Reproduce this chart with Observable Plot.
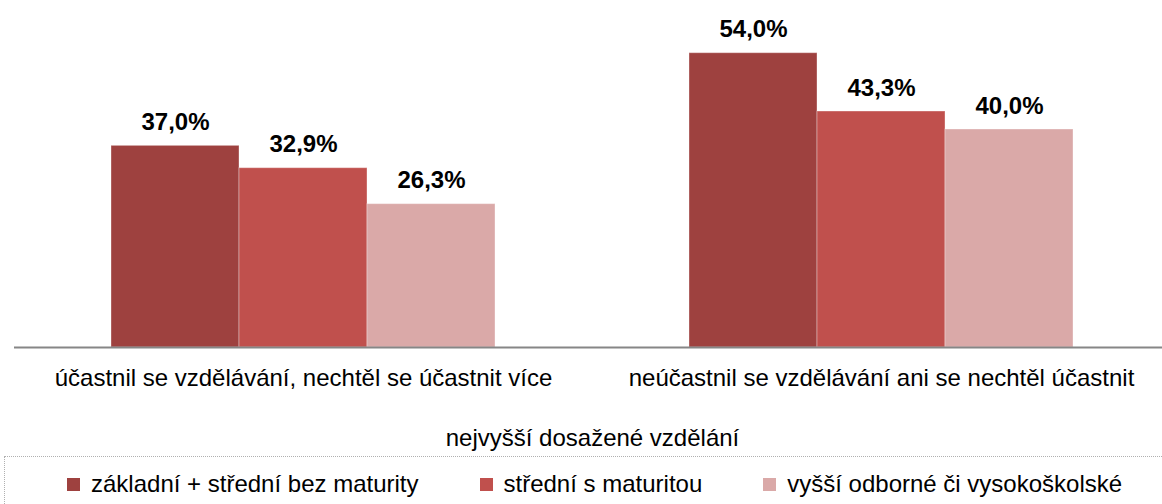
<!DOCTYPE html>
<html>
<head>
<meta charset="utf-8">
<script src="https://cdn.jsdelivr.net/npm/d3@7"></script>
<script src="https://cdn.jsdelivr.net/npm/@observablehq/plot@0.6"></script>
<style>
  html, body { margin: 0; padding: 0; background: #fff; }
  body { width: 1162px; height: 504px; overflow: hidden; font-family: "Liberation Sans", Arial, sans-serif; }
  #chart svg { display: block; }
  #legend {
    box-sizing: border-box;
    margin-left: 4px;
    width: 1160px;
    height: 48px;
    border-top: 1px dotted #b0b0b0;
    border-left: 1px dotted #b0b0b0;
    display: flex;
    align-items: center;
    padding-left: 62px;
    padding-top: 7px;
    font-size: 24px;
    color: #000;
    white-space: nowrap;
  }
  .item { display: flex; align-items: center; margin-right: 61px; }
  .sw { width: 13px; height: 13px; margin-right: 11px; flex: none; }
</style>
</head>
<body>
<div id="chart"></div>
<div id="legend"></div>
<script>
const groups = [
  "účastnil se vzdělávání, nechtěl se účastnit více",
  "neúčastnil se vzdělávání ani se nechtěl účastnit"
];
const series = [
  "základní + střední bez maturity",
  "střední s maturitou",
  "vyšší odborné či vysokoškolské"
];
const valuesGroup1 = [37.0, 32.9, 26.3];
const valuesGroup2 = [54.0, 43.3, 40.0];
const colors = ["#9E413F", "#C0504D", "#DAA9A8"];
const axisTitle = "nejvyšší dosažené vzdělání";

const allValues = [valuesGroup1, valuesGroup2];
const data = groups.flatMap((g, i) => series.map((s, j) => ({group: g, series: s, value: allValues[i][j]})));
const fmt = v => v.toFixed(1).replace(".", ",") + "%";

const chart = Plot.plot({
  width: 1162,
  height: 456,
  marginTop: 20,
  marginBottom: 109,
  marginLeft: 0,
  marginRight: 0,
  style: {fontFamily: "'Liberation Sans', Arial, sans-serif", fontSize: "24px", color: "#000", background: "#fff"},
  fx: {domain: groups, range: [14, 1170], padding: 0, label: null},
  x: {domain: series, paddingInner: 0, paddingOuter: 0.745, axis: null},
  y: {domain: [0, 60], axis: null},
  color: {domain: series, range: colors},
  marks: [
    Plot.barY(data, {fx: "group", x: "series", y: "value", fill: "series", stroke: "#fff", strokeOpacity: 0.35, strokeWidth: 1}),
    Plot.ruleY([0], {stroke: "#868686", strokeWidth: 2}),
    Plot.text(data, {fx: "group", x: "series", y: "value", text: d => fmt(d.value), dy: -16, lineAnchor: "bottom", fontWeight: "bold", fontSize: 24, fill: "#000"}),
    Plot.axisFx({anchor: "bottom", tickSize: 0, tickPadding: 21, fontSize: 24, label: axisTitle, labelAnchor: "center", labelOffset: 98})
  ]
});
document.getElementById("chart").appendChild(chart);

const legend = document.getElementById("legend");
series.forEach((s, i) => {
  const item = document.createElement("div");
  item.className = "item";
  const sw = document.createElement("div");
  sw.className = "sw";
  sw.style.background = colors[i];
  const t = document.createElement("span");
  t.textContent = s;
  item.appendChild(sw);
  item.appendChild(t);
  legend.appendChild(item);
});
</script>
</body>
</html>
